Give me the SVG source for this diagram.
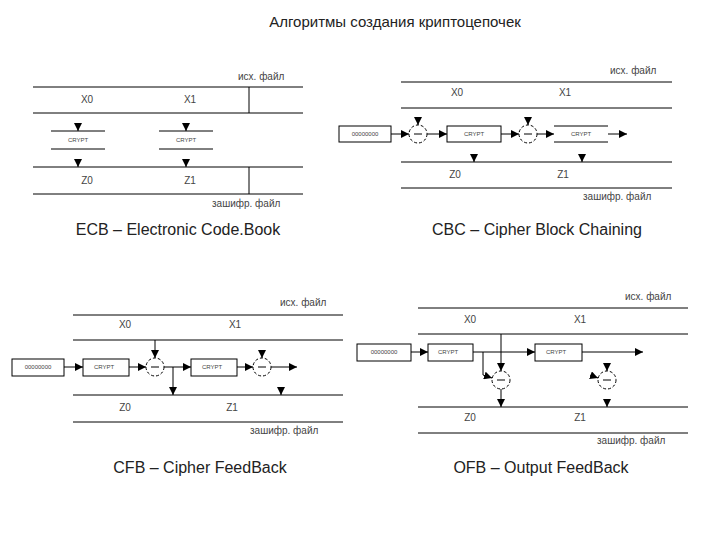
<svg xmlns="http://www.w3.org/2000/svg" width="720" height="540" viewBox="0 0 720 540">
<defs>
<marker id="a" viewBox="0 0 10 10" refX="10" refY="5" markerWidth="8" markerHeight="8" markerUnits="userSpaceOnUse" orient="auto"><polygon points="0,0 10,5 0,10" fill="#000" stroke="none"/></marker>
</defs>
<style>
text{font-family:"Liberation Sans",Arial,sans-serif;fill:#222}
.t{font-size:15px}.c{font-size:16px}.s{font-size:10px;fill:#444}.k{font-size:6px;fill:#444}
line,path,rect{stroke:#000;stroke-width:1;fill:none}
rect.bg{stroke:none;fill:#fff}
.x{stroke-dasharray:3 2;fill:#fff}
.ar{marker-end:url(#a)}
</style>
<rect class="bg" width="720" height="540"/>
<text class="t" x="395" y="27" text-anchor="middle">Алгоритмы создания криптоцепочек</text>

<g id="ecb">
<line x1="33" y1="87" x2="303" y2="87"/><line x1="33" y1="113" x2="303" y2="113"/>
<line x1="33" y1="167" x2="303" y2="167"/><line x1="33" y1="194" x2="303" y2="194"/>
<line x1="249" y1="87" x2="249" y2="113"/><line x1="249" y1="167" x2="249" y2="194"/>
<text class="s" x="238" y="80">исх. файл</text>
<text class="s" x="87" y="103" text-anchor="middle">X0</text><text class="s" x="190" y="103" text-anchor="middle">X1</text>
<line x1="51" y1="131" x2="105" y2="131"/><line x1="51" y1="149" x2="105" y2="149"/>
<line x1="159" y1="131" x2="213" y2="131"/><line x1="159" y1="149" x2="213" y2="149"/>
<text class="k" x="78" y="142" text-anchor="middle">CRYPT</text><text class="k" x="186" y="142" text-anchor="middle">CRYPT</text>
<line class="ar" x1="78" y1="124" x2="78" y2="131"/><line class="ar" x1="186" y1="124" x2="186" y2="131"/>
<line class="ar" x1="78" y1="160" x2="78" y2="167"/><line class="ar" x1="186" y1="160" x2="186" y2="167"/>
<text class="s" x="87" y="184" text-anchor="middle">Z0</text><text class="s" x="190" y="184" text-anchor="middle">Z1</text>
<text class="s" x="212" y="207">зашифр. файл</text>
<text class="c" x="178" y="235" text-anchor="middle">ECB – Electronic Code.Book</text>
</g>

<g id="cbc">
<line x1="401" y1="82" x2="672" y2="82"/><line x1="401" y1="108" x2="672" y2="108"/>
<line x1="401" y1="162" x2="672" y2="162"/><line x1="401" y1="188" x2="672" y2="188"/>
<text class="s" x="610" y="74">исх. файл</text>
<text class="s" x="457" y="96" text-anchor="middle">X0</text><text class="s" x="565" y="96" text-anchor="middle">X1</text>
<rect x="339" y="126" width="52" height="16"/><text class="k" x="365" y="136" text-anchor="middle">00000000</text>
<line class="ar" x1="391" y1="134" x2="409" y2="134"/>
<circle class="x" cx="418" cy="134" r="9" stroke="#000"/><line x1="414" y1="134" x2="422" y2="134"/>
<line class="ar" x1="418" y1="118" x2="418" y2="125"/>
<line class="ar" x1="427" y1="134" x2="447" y2="134"/>
<rect x="447" y="126" width="54" height="16"/><text class="k" x="474" y="136" text-anchor="middle">CRYPT</text>
<line class="ar" x1="501" y1="134" x2="519" y2="134"/>
<circle class="x" cx="528" cy="134" r="9" stroke="#000"/><line x1="524" y1="134" x2="532" y2="134"/>
<line class="ar" x1="528" y1="118" x2="528" y2="125"/>
<line class="ar" x1="537" y1="134" x2="554" y2="134"/>
<line x1="554" y1="126" x2="608" y2="126"/><line x1="554" y1="142" x2="608" y2="142"/>
<text class="k" x="581" y="136" text-anchor="middle">CRYPT</text>
<line class="ar" x1="608" y1="134" x2="627" y2="134"/>
<line class="ar" x1="474" y1="155" x2="474" y2="162"/><line class="ar" x1="582" y1="155" x2="582" y2="162"/>
<text class="s" x="455" y="178" text-anchor="middle">Z0</text><text class="s" x="563" y="178" text-anchor="middle">Z1</text>
<text class="s" x="583" y="200">зашифр. файл</text>
<text class="c" x="537" y="235" text-anchor="middle">CBC – Cipher Block Chaining</text>
</g>

<g id="cfb">
<line x1="73" y1="315" x2="343" y2="315"/><line x1="73" y1="340" x2="343" y2="340"/>
<line x1="73" y1="395" x2="343" y2="395"/><line x1="73" y1="422" x2="343" y2="422"/>
<text class="s" x="280" y="306">исх. файл</text>
<text class="s" x="125" y="328" text-anchor="middle">X0</text><text class="s" x="235" y="328" text-anchor="middle">X1</text>
<rect x="12" y="359" width="52" height="17"/><text class="k" x="38" y="369" text-anchor="middle">00000000</text>
<line class="ar" x1="64" y1="367" x2="83" y2="367"/>
<rect x="83" y="359" width="46" height="17"/><text class="k" x="104" y="369" text-anchor="middle">CRYPT</text>
<line class="ar" x1="129" y1="367" x2="146" y2="367"/>
<circle class="x" cx="155" cy="367" r="9" stroke="#000"/><line x1="151" y1="367" x2="159" y2="367"/>
<line class="ar" x1="155" y1="340" x2="155" y2="358"/>
<line x1="164" y1="367" x2="173" y2="367"/>
<line class="ar" x1="173" y1="367" x2="173" y2="395"/>
<line class="ar" x1="173" y1="367" x2="191" y2="367"/>
<rect x="191" y="359" width="46" height="17"/><text class="k" x="212" y="369" text-anchor="middle">CRYPT</text>
<line class="ar" x1="237" y1="367" x2="253" y2="367"/>
<circle class="x" cx="262" cy="367" r="9" stroke="#000"/><line x1="258" y1="367" x2="266" y2="367"/>
<line class="ar" x1="262" y1="351" x2="262" y2="358"/>
<line class="ar" x1="271" y1="367" x2="297" y2="367"/>
<line class="ar" x1="281" y1="388" x2="281" y2="395"/>
<text class="s" x="125" y="411" text-anchor="middle">Z0</text><text class="s" x="232" y="411" text-anchor="middle">Z1</text>
<text class="s" x="250" y="434">зашифр. файл</text>
<text class="c" x="200" y="473" text-anchor="middle">CFB – Cipher FeedBack</text>
</g>

<g id="ofb">
<line x1="418" y1="308" x2="688" y2="308"/><line x1="418" y1="334" x2="688" y2="334"/>
<line x1="418" y1="407" x2="688" y2="407"/><line x1="418" y1="433" x2="688" y2="433"/>
<text class="s" x="625" y="300">исх. файл</text>
<text class="s" x="470" y="323" text-anchor="middle">X0</text><text class="s" x="580" y="323" text-anchor="middle">X1</text>
<rect x="357" y="344" width="54" height="17"/><text class="k" x="384" y="354" text-anchor="middle">00000000</text>
<line class="ar" x1="411" y1="352" x2="428" y2="352"/>
<rect x="428" y="344" width="45" height="17"/><text class="k" x="448" y="354" text-anchor="middle">CRYPT</text>
<line class="ar" x1="473" y1="352" x2="535" y2="352"/>
<rect x="535" y="344" width="47" height="17"/><text class="k" x="556" y="354" text-anchor="middle">CRYPT</text>
<line class="ar" x1="582" y1="352" x2="643" y2="352"/>
<path d="M483,352V375"/><line class="ar" x1="483" y1="375" x2="492" y2="378"/>
<circle class="x" cx="501" cy="380" r="9" stroke="#000"/><line x1="497" y1="380" x2="505" y2="380"/>
<line class="ar" x1="501" y1="334" x2="501" y2="371"/>
<line class="ar" x1="501" y1="389" x2="501" y2="407"/>
<line class="ar" x1="590" y1="375" x2="598" y2="378"/>
<circle class="x" cx="607" cy="380" r="9" stroke="#000"/><line x1="603" y1="380" x2="611" y2="380"/>
<line class="ar" x1="607" y1="364" x2="607" y2="371"/>
<line class="ar" x1="607" y1="400" x2="607" y2="407"/>
<text class="s" x="470" y="421" text-anchor="middle">Z0</text><text class="s" x="580" y="421" text-anchor="middle">Z1</text>
<text class="s" x="597" y="444">зашифр. файл</text>
<text class="c" x="541" y="473" text-anchor="middle">OFB – Output FeedBack</text>
</g>
</svg>
